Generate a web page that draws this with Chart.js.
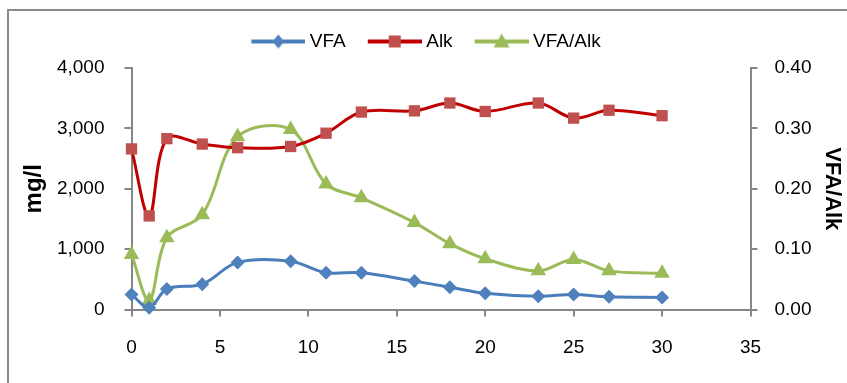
<!DOCTYPE html>
<html>
<head>
<meta charset="utf-8">
<script src="https://cdn.jsdelivr.net/npm/chart.js@4.4.1/dist/chart.umd.min.js"></script>
<style>
  html, body { margin: 0; padding: 0; background: #fff; }
  #wrap { width: 847px; height: 383px; }
</style>
</head>
<body>
<div id="wrap"><canvas id="myChart" width="847" height="383"></canvas></div>
<script>
// data
const days = [0, 1, 2, 4, 6, 9, 11, 13, 16, 18, 20, 23, 25, 27, 30];
const vfa = [250, 30, 340, 420, 780, 800, 610, 610, 470, 370, 270, 220, 250, 210, 200];
const alk = [2660, 1550, 2830, 2740, 2680, 2700, 2920, 3270, 3290, 3420, 3280, 3420, 3170, 3300, 3210];
const ratio = [0.091, 0.015, 0.119, 0.157, 0.286, 0.298, 0.208, 0.185, 0.144, 0.109, 0.084, 0.064, 0.083, 0.064, 0.060];

const xTicks = [0, 5, 10, 15, 20, 25, 30, 35];
const leftTicks = [0, 1000, 2000, 3000, 4000];
const rightTicks = [0, 0.1, 0.2, 0.3, 0.4];

const FONT = "'Liberation Sans', Arial, sans-serif";
const AXIS_GREY = '#868686';

function pts(ys) {
  return days.map((d, i) => ({x: d, y: ys[i]}));
}

// small picture for legend: line with marker in the middle
function legendIcon(lineColor, markerColor, style) {
  const c = document.createElement('canvas');
  c.width = 64; c.height = 22;
  const g = c.getContext('2d');
  g.strokeStyle = lineColor;
  g.lineWidth = 4;
  g.beginPath(); g.moveTo(10, 11); g.lineTo(64, 11); g.stroke();
  g.fillStyle = markerColor;
  const cx = 37, cy = 11;
  g.beginPath();
  if (style === 'diamond') {
    g.moveTo(cx, cy - 7); g.lineTo(cx + 6, cy); g.lineTo(cx, cy + 7); g.lineTo(cx - 6, cy);
  } else if (style === 'square') {
    g.rect(cx - 6, cy - 6, 12, 12);
  } else {
    g.moveTo(cx, cy - 8); g.lineTo(cx + 8, cy + 6); g.lineTo(cx - 8, cy + 6);
  }
  g.closePath(); g.fill();
  return c;
}

const icons = [
  legendIcon('#4A7EBB', '#4F81BD', 'diamond'),
  legendIcon('#C00000', '#C0504D', 'square'),
  legendIcon('#9BBB59', '#9BBB59', 'triangle')
];

const frame = {
  id: 'frame',
  beforeDraw(chart) {
    const ctx = chart.ctx;
    ctx.save();
    ctx.strokeStyle = '#8a8a8a';
    ctx.lineWidth = 2;
    ctx.strokeRect(8, 10, 900, 500);
    ctx.restore();
  }
};

// a bit more room under the legend
const legendGap = {
  id: 'legendGap',
  beforeLayout(chart) {
    const lg = chart.legend;
    if (lg && !lg._gapDone) {
      const fit = lg.fit;
      lg.fit = function () { fit.call(this); this.height += 7; };
      lg._gapDone = true;
    }
  }
};

const ctx = document.getElementById('myChart');
const myChart = new Chart(ctx, {
  type: 'line',
  data: {
    datasets: [{
      label: 'VFA',
      data: pts(vfa),
      yAxisID: 'y',
      borderColor: '#4A7EBB',
      backgroundColor: '#4F81BD',
      borderWidth: 3,
      pointStyle: 'rectRot',
      pointRadius: 7,
      pointBorderWidth: 0,
      tension: 0.35,
      clip: false
    }, {
      label: 'Alk',
      data: pts(alk),
      yAxisID: 'y',
      borderColor: '#C00000',
      backgroundColor: '#C0504D',
      borderWidth: 3,
      pointStyle: 'rect',
      pointRadius: 8,
      pointBorderWidth: 0,
      tension: 0.35,
      clip: false
    }, {
      label: 'VFA/Alk',
      data: pts(ratio),
      yAxisID: 'y1',
      borderColor: '#9BBB59',
      backgroundColor: '#9BBB59',
      borderWidth: 3,
      pointStyle: 'triangle',
      pointRadius: 9,
      pointBorderWidth: 0,
      tension: 0.35,
      clip: false
    }]
  },
  options: {
    responsive: false,
    animation: false,
    devicePixelRatio: 1,
    layout: { padding: { top: 15, left: 0, right: 0, bottom: 0 } },
    plugins: {
      tooltip: { enabled: false },
      legend: {
        position: 'top',
        labels: {
          usePointStyle: true,
          pointStyleWidth: 54,
          boxHeight: 19,
          padding: 17,
          color: '#000',
          font: { family: FONT, size: 19 },
          generateLabels(chart) {
            const items = Chart.defaults.plugins.legend.labels.generateLabels(chart);
            items.forEach((it, i) => { it.pointStyle = icons[i]; });
            return items;
          }
        }
      }
    },
    scales: {
      x: {
        type: 'linear',
        min: 0, max: 35,
        afterBuildTicks(scale) { scale.ticks = xTicks.map(v => ({value: v})); },
        afterFit(scale) { scale.height = 73.5; },
        border: { display: true, color: AXIS_GREY, width: 2 },
        grid: { drawOnChartArea: false, drawTicks: true, tickLength: 7, color: AXIS_GREY, lineWidth: 2 },
        ticks: { color: '#000', padding: 20, font: { family: FONT, size: 19 } }
      },
      y: {
        position: 'left',
        min: 0, max: 4000,
        afterBuildTicks(scale) { scale.ticks = leftTicks.map(v => ({value: v})); },
        afterFit(scale) { scale.width = 131.5; },
        border: { display: true, color: AXIS_GREY, width: 2 },
        grid: { drawOnChartArea: false, drawTicks: true, tickLength: 7, color: AXIS_GREY, lineWidth: 2 },
        ticks: {
          color: '#000', padding: 20, font: { family: FONT, size: 19 },
          callback: v => v.toLocaleString('en-US')
        },
        title: {
          display: true, text: 'mg/l', color: '#000',
          font: { family: FONT, size: 24, weight: 'bold' },
          padding: { top: 20, bottom: 0 }
        }
      },
      y1: {
        position: 'right',
        min: 0, max: 0.4,
        afterBuildTicks(scale) { scale.ticks = rightTicks.map(v => ({value: v})); },
        afterFit(scale) { scale.width = 96.5; },
        border: { display: true, color: AXIS_GREY, width: 2 },
        grid: { drawOnChartArea: false, drawTicks: true, tickLength: 7, color: AXIS_GREY, lineWidth: 2 },
        ticks: {
          color: '#000', padding: 17, font: { family: FONT, size: 19 },
          callback: v => v.toFixed(2)
        },
        title: {
          display: true, text: 'VFA/Alk', color: '#000',
          font: { family: FONT, size: 22, weight: 'bold' },
          padding: { top: 2, bottom: 0 }
        }
      }
    }
  },
  plugins: [frame, legendGap]
});
</script>
</body>
</html>
